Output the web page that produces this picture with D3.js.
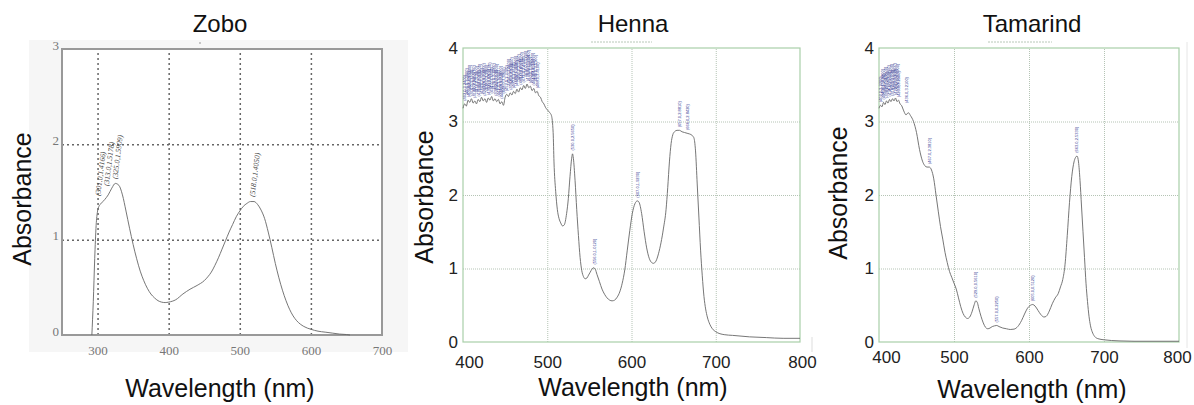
<!DOCTYPE html>
<html>
<head>
<meta charset="utf-8">
<script src="https://cdn.jsdelivr.net/npm/d3@7"></script>
<style>
  body { margin: 0; background: #fff; }
  svg { display: block; font-family: "Liberation Sans", Arial, sans-serif; }
</style>
</head>
<body>
<div id="chart"></div>
<script>
// spectra (wavelength nm, absorbance)
const zoboWl = [292,294,296,298,300,302,305,310,315,320,325,330,335,340,345,350,355,360,365,370,375,380,385,390,395,400,410,420,430,440,450,455,460,465,470,475,480,485,490,495,500,505,510,515,520,525,530,535,540,545,550,555,560,565,570,575,580,590,600,610,620,630,640,650,655];
const zoboAbs = [0,0.35,0.8,1.15,1.3,1.35,1.38,1.42,1.47,1.54,1.59,1.57,1.47,1.3,1.12,0.95,0.8,0.67,0.57,0.49,0.43,0.39,0.36,0.345,0.34,0.345,0.37,0.43,0.48,0.52,0.57,0.61,0.66,0.73,0.81,0.9,0.99,1.08,1.16,1.24,1.3,1.35,1.38,1.4,1.4,1.37,1.31,1.22,1.08,0.92,0.75,0.6,0.47,0.36,0.27,0.2,0.15,0.09,0.06,0.04,0.03,0.02,0.01,0.005,0];
const zoboPeakWl = [301, 313, 325, 518];
const zoboPeakAbs = [1.4166, 1.5178, 1.5909, 1.4050];

const hennaWl = [400,402,404,406,408,410,412,414,416,418,420,422,424,426,428,430,432,434,436,438,440,442,444,446,448,450,452,454,456,458,460,462,464,466,468,470,472,474,476,478,480,482,484,486,488,490,492,494,496,498,500,
  503,505,507,508,510,512,514,516,518,520,523,525,527,529,530,531,533,535,537,539,541,543,545,547,549,551,553,555,557,559,562,565,568,571,574,577,580,583,586,589,592,595,598,601,604,607,609,612,615,618,621,624,626,629,632,635,638,641,643,645,647,649,651,654,657,660,663,666,669,672,674,676,678,680,682,684,686,688,690,693,696,700,710,720,740,760,780,800];
const hennaAbs = [3.18,3.24,3.21,3.29,3.26,3.31,3.25,3.28,3.24,3.30,3.27,3.33,3.28,3.31,3.26,3.32,3.29,3.34,3.28,3.31,3.27,3.30,3.24,3.27,3.22,3.33,3.37,3.34,3.39,3.36,3.41,3.38,3.44,3.40,3.46,3.43,3.49,3.45,3.51,3.46,3.48,3.42,3.45,3.39,3.41,3.35,3.33,3.27,3.24,3.19,3.16,
  3.12,3.08,2.85,2.45,2.05,1.8,1.68,1.62,1.58,1.59,1.75,1.95,2.25,2.5,2.56,2.5,2.2,1.8,1.45,1.15,0.97,0.89,0.86,0.87,0.91,0.95,0.99,1.01,0.99,0.92,0.82,0.72,0.65,0.6,0.57,0.56,0.57,0.61,0.68,0.8,0.98,1.25,1.52,1.75,1.88,1.92,1.9,1.75,1.5,1.28,1.14,1.08,1.07,1.1,1.2,1.35,1.55,1.8,2.1,2.45,2.7,2.82,2.86,2.88,2.88,2.86,2.85,2.84,2.83,2.81,2.78,2.6,2.15,1.7,1.25,0.9,0.62,0.45,0.34,0.24,0.18,0.14,0.1,0.09,0.07,0.06,0.05,0.05];
const hennaNoiseEnd = 500;
const hennaPeakWl = [530, 556, 607, 657, 666];
const hennaPeakAbs = [2.5650, 1.0120, 1.9230, 2.8810, 2.8420];

const tamWl = [400,402,404,406,408,410,412,414,416,418,420,422,424,426,428,430,432,434,436,
  439,442,446,450,454,458,461,464,467,470,473,476,479,482,485,488,491,494,497,500,503,506,509,512,515,518,521,524,527,529,531,533,536,539,542,545,548,551,554,557,560,565,570,575,580,585,590,594,598,602,605,608,612,616,620,623,627,631,635,639,642,645,648,651,654,657,660,662,664,666,668,670,672,674,676,678,680,682,685,688,692,700,720,740,800];
const tamAbs = [3.18,3.22,3.20,3.26,3.23,3.28,3.25,3.30,3.27,3.31,3.28,3.32,3.27,3.29,3.24,3.22,3.17,3.12,3.09,
  3.12,3.08,3.0,2.85,2.62,2.46,2.4,2.38,2.38,2.34,2.22,2.0,1.78,1.57,1.4,1.22,1.08,0.96,0.88,0.8,0.72,0.6,0.48,0.39,0.34,0.32,0.34,0.41,0.51,0.56,0.54,0.46,0.35,0.26,0.2,0.18,0.19,0.21,0.22,0.225,0.21,0.19,0.18,0.17,0.175,0.21,0.29,0.38,0.46,0.5,0.51,0.49,0.43,0.37,0.34,0.35,0.42,0.52,0.6,0.66,0.75,0.85,1.05,1.45,1.9,2.25,2.45,2.51,2.53,2.45,2.2,1.85,1.5,1.15,0.8,0.55,0.35,0.22,0.12,0.07,0.045,0.03,0.015,0.01,0.01];
const tamNoiseEnd = 436;
const tamPeakWl = [467, 529, 557, 605, 663];
const tamPeakAbs = [2.3810, 0.5610, 0.2250, 0.5120, 2.5330];

const xTicksZobo = [300, 400, 500, 600, 700];
const yTicksZobo = [0, 1, 2, 3];
const xTicks = [400, 500, 600, 700, 800];
const yTicks = [0, 1, 2, 3, 4];

const svg = d3.select('#chart').append('svg')
  .attr('width', 1194)
  .attr('height', 405);

function pointsOf(wl, ab) {
  return wl.map((w, i) => ({w: w, a: ab[i]}));
}

function drawPanel(p) {
  let x = d3.scaleLinear().domain(p.xDomain).range([p.left, p.right]);
  let y = d3.scaleLinear().domain(p.yDomain).range([p.bottom, p.top]);
  let g = svg.append('g');

  if (p.paper) {
    g.append('rect').attr('x', p.paper[0]).attr('y', p.paper[1])
      .attr('width', p.paper[2]).attr('height', p.paper[3]).attr('fill', '#f6f6f6');
  }
  g.append('rect')
    .attr('x', p.left).attr('y', p.top)
    .attr('width', p.right - p.left).attr('height', p.bottom - p.top)
    .attr('fill', '#fff');

  // grid
  let gx = g.append('g')
    .attr('transform', 'translate(0,' + p.bottom + ')')
    .call(d3.axisBottom(x).tickValues(p.xTicks.filter(t => t > p.xDomain[0] && t < p.xDomain[1]))
      .tickSize(-(p.bottom - p.top)).tickFormat(''));
  let gy = g.append('g')
    .attr('transform', 'translate(' + p.left + ',0)')
    .call(d3.axisLeft(y).tickValues(p.yTicks.filter(t => t > p.yDomain[0] && t < p.yDomain[1]))
      .tickSize(-(p.right - p.left)).tickFormat(''));
  [gx, gy].forEach(a => {
    a.select('.domain').remove();
    a.selectAll('line').attr('stroke', p.gridColor)
      .attr('stroke-width', p.gridWidth).attr('stroke-dasharray', p.gridDash);
  });

  // frame
  g.append('rect')
    .attr('x', p.left).attr('y', p.top)
    .attr('width', p.right - p.left).attr('height', p.bottom - p.top)
    .attr('fill', 'none').attr('stroke', p.frameColor).attr('stroke-width', p.frameWidth);

  // tick labels
  let ax = g.append('g')
    .attr('transform', 'translate(0,' + p.bottom + ')')
    .call(d3.axisBottom(x).tickValues(p.xTicks).tickSize(0).tickPadding(p.xPad).tickFormat(d3.format('d')));
  let ay = g.append('g')
    .attr('transform', 'translate(' + p.left + ',0)')
    .call(d3.axisLeft(y).tickValues(p.yTicks).tickSize(0).tickPadding(p.yPad).tickFormat(d3.format('d')));
  [ax, ay].forEach(a => {
    a.select('.domain').remove();
    a.selectAll('text').attr('font-family', p.tickFont).attr('font-size', p.tickSize)
      .attr('fill', p.tickColor);
  });
  ax.selectAll('text').attr('dx', (d, i) => p.xShift ? p.xShift[i] : 0);
  ay.selectAll('text').attr('dy', p.yDy);

  // spectrum
  let pts = pointsOf(p.wl, p.abs);
  g.append('path')
    .datum(pts)
    .attr('fill', 'none')
    .attr('stroke', '#666')
    .attr('stroke-width', 0.9)
    .attr('d', d3.line().x(d => x(d.w)).y(d => y(d.a)).curve(d3.curveMonotoneX));

  // peak pick labels
  let labels = p.peakWl.map((w, i) => ({w: w, a: p.peakAbs[i]}));
  if (p.noiseEnd) {
    pts.forEach((d, i) => {
      if (d.w <= p.noiseEnd && i > 0 && i < pts.length - 1 &&
          d.a >= pts[i - 1].a && d.a >= pts[i + 1].a) labels.push(d);
    });
    // second pick on the in-between points makes the dense stacks
    pts.forEach((d, i) => {
      if (d.w <= p.noiseEnd && i > 0 && i < pts.length - 1 &&
          d.a < pts[i - 1].a && d.a < pts[i + 1].a) labels.push({w: d.w, a: d.a + 0.12});
    });
  }
  g.selectAll('.pk').data(labels).enter().append('text')
    .attr('class', 'pk')
    .attr('transform', d => 'translate(' + (x(d.w) + p.labDx) + ',' + (y(d.a) - p.labGap) + ') rotate(' + p.labRot + ')')
    .attr('font-family', p.labFont)
    .attr('font-style', p.labStyle)
    .attr('font-size', p.labSize)
    .attr('fill', p.labColor)
    .text(d => '(' + d.w.toFixed(1) + ',' + d.a.toFixed(4) + ')');

  // titles
  svg.append('text')
    .attr('x', p.cx).attr('y', 32)
    .attr('text-anchor', 'middle').attr('font-size', 24).attr('fill', '#111')
    .text(p.title);
  svg.append('text')
    .attr('x', p.cx).attr('y', p.xLabY)
    .attr('text-anchor', 'middle').attr('font-size', 25).attr('fill', '#111')
    .text('Wavelength (nm)');
  svg.append('text')
    .attr('transform', 'translate(' + p.yLabX + ',' + p.yLabY + ') rotate(-90)')
    .attr('text-anchor', 'middle').attr('font-size', 25).attr('fill', '#111')
    .text('Absorbance');
}

drawPanel({
  title: 'Zobo', cx: 220, xLabY: 397, yLabX: 31, yLabY: 199,
  left: 62, right: 382, top: 49, bottom: 335,
  xDomain: [250, 700], yDomain: [0, 3],
  xTicks: xTicksZobo, yTicks: yTicksZobo,
  paper: [29, 40, 379, 312],
  gridColor: '#666', gridWidth: 1.5, gridDash: '2,3',
  frameColor: '#999', frameWidth: 2,
  tickFont: '"Liberation Serif", serif', tickSize: 13, tickColor: '#777',
  xPad: 11, yPad: 3, yDy: '0em',
  wl: zoboWl, abs: zoboAbs, peakWl: zoboPeakWl, peakAbs: zoboPeakAbs, noiseEnd: 0,
  labDx: 2, labGap: 4, labRot: -83, labFont: '"Liberation Serif", serif', labStyle: 'italic',
  labSize: 7.5, labColor: '#444'
});

drawPanel({
  title: 'Henna', cx: 633, xLabY: 396, yLabX: 433, yLabY: 197,
  left: 463, right: 800, top: 48, bottom: 342,
  xDomain: [400, 800], yDomain: [0, 4],
  xTicks: xTicks, yTicks: yTicks,
  gridColor: '#b5c4b5', gridWidth: 1, gridDash: '1,1',
  frameColor: '#a9cfa9', frameWidth: 1.2,
  tickFont: '"Liberation Sans", Arial, sans-serif', tickSize: 17, tickColor: '#222',
  xPad: 14, yPad: 5, yDy: '0.32em', xShift: [6, 0, 0, 0, 2],
  wl: hennaWl, abs: hennaAbs, peakWl: hennaPeakWl, peakAbs: hennaPeakAbs, noiseEnd: hennaNoiseEnd,
  labDx: 1.5, labGap: 3, labRot: -90, labFont: '"Liberation Sans", Arial, sans-serif', labStyle: 'normal',
  labSize: 4, labColor: '#2f3592'
});

drawPanel({
  title: 'Tamarind', cx: 1032, xLabY: 398, yLabX: 847, yLabY: 193,
  left: 879, right: 1179, top: 48, bottom: 342,
  xDomain: [400, 800], yDomain: [0, 4],
  xTicks: xTicks, yTicks: yTicks,
  gridColor: '#b5c4b5', gridWidth: 1, gridDash: '1,1',
  frameColor: '#a9cfa9', frameWidth: 1.2,
  tickFont: '"Liberation Sans", Arial, sans-serif', tickSize: 17, tickColor: '#222',
  xPad: 9, yPad: 5, yDy: '0.32em', xShift: [7, 0, 0, 0, -2],
  wl: tamWl, abs: tamAbs, peakWl: tamPeakWl, peakAbs: tamPeakAbs, noiseEnd: tamNoiseEnd,
  labDx: 1.5, labGap: 3, labRot: -90, labFont: '"Liberation Sans", Arial, sans-serif', labStyle: 'normal',
  labSize: 4, labColor: '#2f3592'
});

// faint leftovers of the scanned originals
svg.append('line').attr('x1', 591).attr('x2', 652).attr('y1', 42).attr('y2', 42)
  .attr('stroke', '#b8c8b8').attr('stroke-dasharray', '2,1');
svg.append('line').attr('x1', 988).attr('x2', 1052).attr('y1', 42).attr('y2', 42)
  .attr('stroke', '#b8c8b8').attr('stroke-dasharray', '2,1');
svg.append('line').attr('x1', 812).attr('x2', 812).attr('y1', 337).attr('y2', 352)
  .attr('stroke', '#ddd');
svg.append('line').attr('x1', 1187).attr('x2', 1187).attr('y1', 42).attr('y2', 348)
  .attr('stroke', '#e6e6e6');
svg.append('circle').attr('cx', 200).attr('cy', 43).attr('r', 0.8).attr('fill', '#888');
</script>
</body>
</html>
